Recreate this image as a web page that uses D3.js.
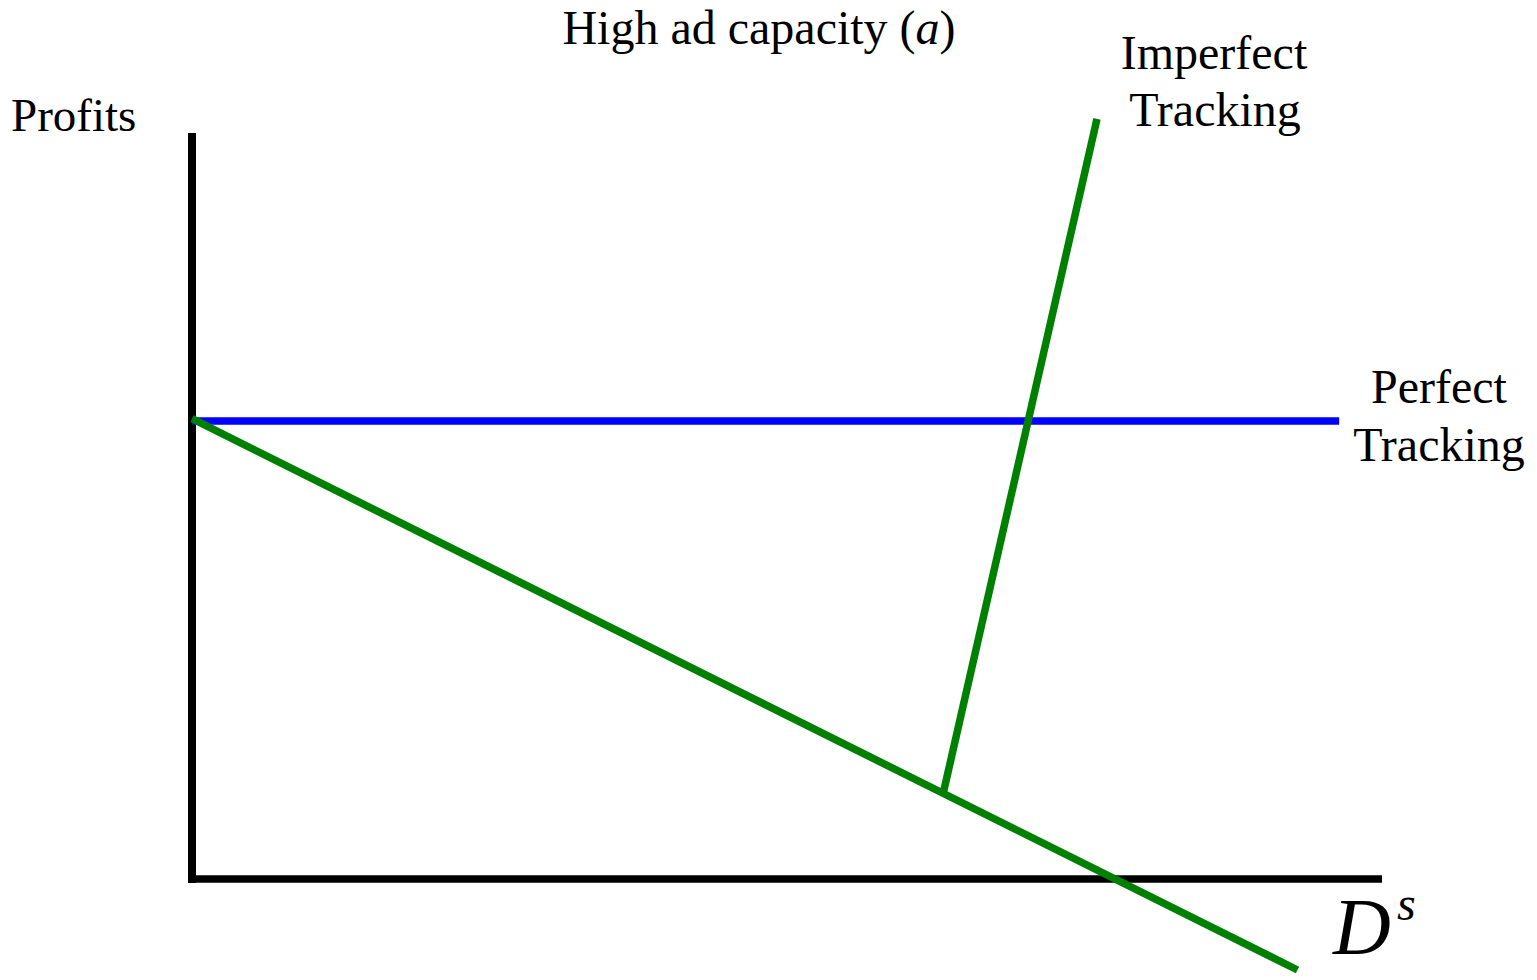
<!DOCTYPE html>
<html>
<head>
<meta charset="utf-8">
<script src="https://cdn.jsdelivr.net/npm/d3@7"></script>
<style>
  html, body { margin: 0; padding: 0; background: #fff; }
  svg { display: block; }
  text { font-family: "Liberation Serif", "Times New Roman", serif; fill: #000; }
</style>
</head>
<body>
<svg id="chart" width="1537" height="980"></svg>
<script>
// ---- Data (abstract units) ----
const perfectTracking = [ {x: 0, y: 6.14}, {x: 9.64, y: 6.14} ];
const decliningLine   = [ {x: 0, y: 6.17}, {x: 9.29, y: -1.22} ];
const imperfectTracking = [ {x: 6.31, y: 1.13}, {x: 7.605, y: 10.19} ];
const xDomain = [0, 10];
const yDomain = [0, 10];

const titleText = "High ad capacity (";
const titleItalic = "a";
const yLabel = "Profits";
const xLabel = "D";
const xLabelSup = "s";

// ---- Scales ----
const x = d3.scaleLinear().domain(xDomain).range([192, 1382]);
const y = d3.scaleLinear().domain(yDomain).range([879, 133]);

const svg = d3.select("#chart");

// Axes (plain lines, no ticks)
svg.append("line")
  .attr("x1", x(0)).attr("y1", y(10))
  .attr("x2", x(0)).attr("y2", y(0) + 4)
  .attr("stroke", "#000").attr("stroke-width", 8);
svg.append("line")
  .attr("x1", x(0) - 4).attr("y1", y(0))
  .attr("x2", x(10)).attr("y2", y(0))
  .attr("stroke", "#000").attr("stroke-width", 7.5);

const line = d3.line().x(d => x(d.x)).y(d => y(d.y));

svg.append("path").datum(perfectTracking)
  .attr("d", line).attr("fill", "none")
  .attr("stroke", "#0000ff").attr("stroke-width", 7.5);

svg.append("path").datum(decliningLine)
  .attr("d", line).attr("fill", "none")
  .attr("stroke", "#008000").attr("stroke-width", 7.5);

svg.append("path").datum(imperfectTracking)
  .attr("d", line).attr("fill", "none")
  .attr("stroke", "#008000").attr("stroke-width", 7.5);

// Title
const t = svg.append("text").attr("x", 759).attr("y", 44)
  .attr("text-anchor", "middle").attr("font-size", 48);
t.append("tspan").text(titleText);
t.append("tspan").attr("font-style", "italic").text(titleItalic);
t.append("tspan").text(")");

// Y label
svg.append("text").attr("x", 11).attr("y", 131)
  .attr("font-size", 47).text(yLabel);

// Line labels
svg.append("text").attr("x", 1214).attr("y", 69)
  .attr("text-anchor", "middle").attr("font-size", 48).text("Imperfect");
svg.append("text").attr("x", 1215).attr("y", 126)
  .attr("text-anchor", "middle").attr("font-size", 48).text("Tracking");
svg.append("text").attr("x", 1439).attr("y", 403)
  .attr("text-anchor", "middle").attr("font-size", 48).text("Perfect");
svg.append("text").attr("x", 1439).attr("y", 461)
  .attr("text-anchor", "middle").attr("font-size", 48).text("Tracking");

// X label D^s
svg.append("text").attr("x", 1333).attr("y", 954)
  .attr("font-size", 80).attr("font-style", "italic").text(xLabel);
svg.append("text").attr("x", 1397).attr("y", 920)
  .attr("font-size", 48).attr("font-style", "italic").text(xLabelSup);
</script>
</body>
</html>
